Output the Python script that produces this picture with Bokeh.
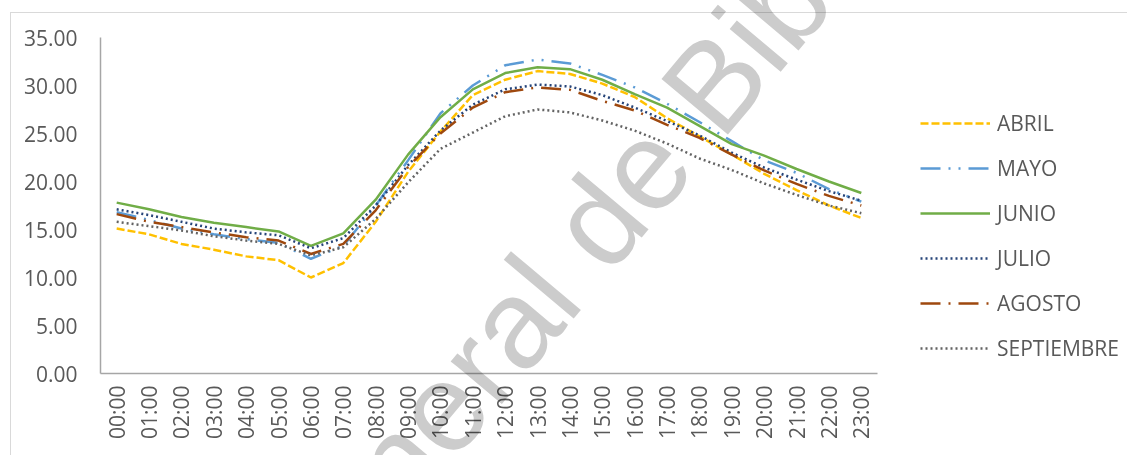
import math

from bokeh.embed import file_html
from bokeh.layouts import column
from bokeh.models import (Div, FixedTicker, Legend, LegendItem,
                          PrintfTickFormatter, Range1d)
from bokeh.plotting import figure
from bokeh.resources import INLINE

# Hourly temperature profile by month
hours = ["00:00", "01:00", "02:00", "03:00", "04:00", "05:00", "06:00", "07:00",
         "08:00", "09:00", "10:00", "11:00", "12:00", "13:00", "14:00", "15:00",
         "16:00", "17:00", "18:00", "19:00", "20:00", "21:00", "22:00", "23:00"]

abril = [15.1, 14.5, 13.5, 12.9, 12.2, 11.8, 10.0, 11.5, 15.8, 21.0, 25.2, 29.0,
         30.6, 31.5, 31.2, 30.2, 28.8, 26.6, 24.7, 22.8, 20.8, 19.1, 17.5, 16.2]
mayo = [16.8, 16.0, 15.1, 14.5, 14.0, 13.6, 11.95, 13.3, 17.5, 22.2, 27.1, 30.0,
        32.1, 32.7, 32.3, 31.1, 29.8, 28.1, 26.2, 24.2, 22.2, 20.9, 19.2, 17.9]
junio = [17.8, 17.1, 16.3, 15.7, 15.25, 14.8, 13.3, 14.6, 18.1, 22.8, 26.7, 29.6,
         31.3, 31.9, 31.7, 30.6, 29.1, 27.7, 25.8, 23.9, 22.7, 21.3, 20.0, 18.8]
julio = [17.1, 16.5, 15.8, 15.1, 14.7, 14.4, 13.05, 14.1, 17.5, 21.7, 25.3, 28.0,
         29.6, 30.1, 29.9, 29.0, 27.7, 26.3, 24.8, 23.0, 21.45, 20.2, 19.0, 18.0]
agosto = [16.6, 15.8, 15.25, 14.7, 14.2, 13.85, 12.45, 13.5, 17.0, 21.5, 25.0, 27.7,
          29.3, 29.8, 29.55, 28.4, 27.4, 25.9, 24.55, 22.8, 21.15, 19.75, 18.5, 17.5]
septiembre = [15.8, 15.35, 14.9, 14.3, 13.85, 13.5, 12.3, 13.15, 16.1, 19.9, 23.4, 25.1,
              26.8, 27.5, 27.2, 26.35, 25.3, 23.95, 22.4, 21.2, 19.8, 18.6, 17.5, 16.7]

y_ticks = [0, 5, 10, 15, 20, 25, 30, 35]

FONT = "Open Sans"
TEXT_COLOR = "#595959"
AXIS_COLOR = "#A6A6A6"

# each hour occupies one unit slot; points sit at the slot centres
n_hours = len(hours)
x_pos = [i + 0.5 for i in range(n_hours)]

# the plotting frame runs from x=100 to the page edge; the hour axis covers
# the first 777 px of it and the legend lives in the rest
PLOT_LEFT, AXIS_RIGHT, PAGE_W = 100, 877, 1127
x_end = n_hours * (PAGE_W - PLOT_LEFT) / (AXIS_RIGHT - PLOT_LEFT)

p = figure(width=PAGE_W, height=455,
           x_range=Range1d(0, x_end),
           y_range=Range1d(0, 35),
           output_backend="svg", toolbar_location=None,
           min_border_left=PLOT_LEFT, min_border_right=0,
           min_border_top=37, min_border_bottom=82)
p.outline_line_color = None
p.grid.visible = False
p.background_fill_color = "white"
p.border_fill_color = "white"

series = [
    ("ABRIL", abril, "#FFC000", "8 3"),
    ("MAYO", mayo, "#5B9BD5", "20 8 2 8 2 8"),
    ("JUNIO", junio, "#70AD47", "solid"),
    ("JULIO", julio, "#264478", "2 3"),
    ("AGOSTO", agosto, "#9E480E", "20 8 2 8"),
    ("SEPTIEMBRE", septiembre, "#636363", "2 3"),
]

items = []
for name, vals, color, dash in series:
    r = p.line(x_pos, vals, line_color=color, line_width=2.5, line_dash=dash)
    items.append(LegendItem(label=name, renderers=[r]))

legend = Legend(items=items, location=(AXIS_RIGHT - PLOT_LEFT + 43, 11),
                padding=0, margin=0,
                spacing=17, glyph_width=70, glyph_height=20, label_height=20,
                label_standoff=7, border_line_color=None,
                background_fill_alpha=0,
                label_text_font=FONT, label_text_font_size="21px",
                label_text_color=TEXT_COLOR)
p.add_layout(legend)

for ax in (p.xaxis[0], p.yaxis[0]):
    ax.axis_line_color = AXIS_COLOR
    ax.axis_line_width = 1.5
    ax.major_tick_line_color = None
    ax.minor_tick_line_color = None
    ax.major_tick_out = 0
    ax.major_tick_in = 0
    ax.minor_tick_out = 0
    ax.major_label_text_font = FONT
    ax.major_label_text_font_size = "21px"
    ax.major_label_text_color = TEXT_COLOR

p.yaxis.ticker = FixedTicker(ticks=y_ticks)
p.yaxis.formatter = PrintfTickFormatter(format="%.2f")
p.yaxis.major_label_standoff = 23

p.xaxis.bounds = (0, n_hours)
p.xaxis.ticker = FixedTicker(ticks=x_pos)
p.xaxis.major_label_overrides = {x: h for x, h in zip(x_pos, hours)}
p.xaxis.major_label_orientation = math.pi / 2
p.xaxis.major_label_standoff = 12

# thin frame around the chart area
frame_box = Div(text="", width=1140, height=470,
                styles={"position": "absolute", "left": "5px", "top": "7px",
                        "border": "1.5px solid #D9D9D9",
                        "pointer-events": "none"})

# diagonal library watermark
watermark = Div(
    text='<span style="font-family: \'Liberation Sans\'; font-size: 126px; '
         'line-height: 1.15; color: #CCCCCC; white-space: nowrap;">'
         'General de Bibliotecas</span>',
    width=1500, height=150,
    styles={"position": "absolute", "left": "205px", "top": "568px",
            "transform": "rotate(-50deg)", "transform-origin": "0 0",
            "mix-blend-mode": "multiply", "pointer-events": "none"})

page = column(p, frame_box, watermark)
open("out.html", "w").write(file_html(page, INLINE))
